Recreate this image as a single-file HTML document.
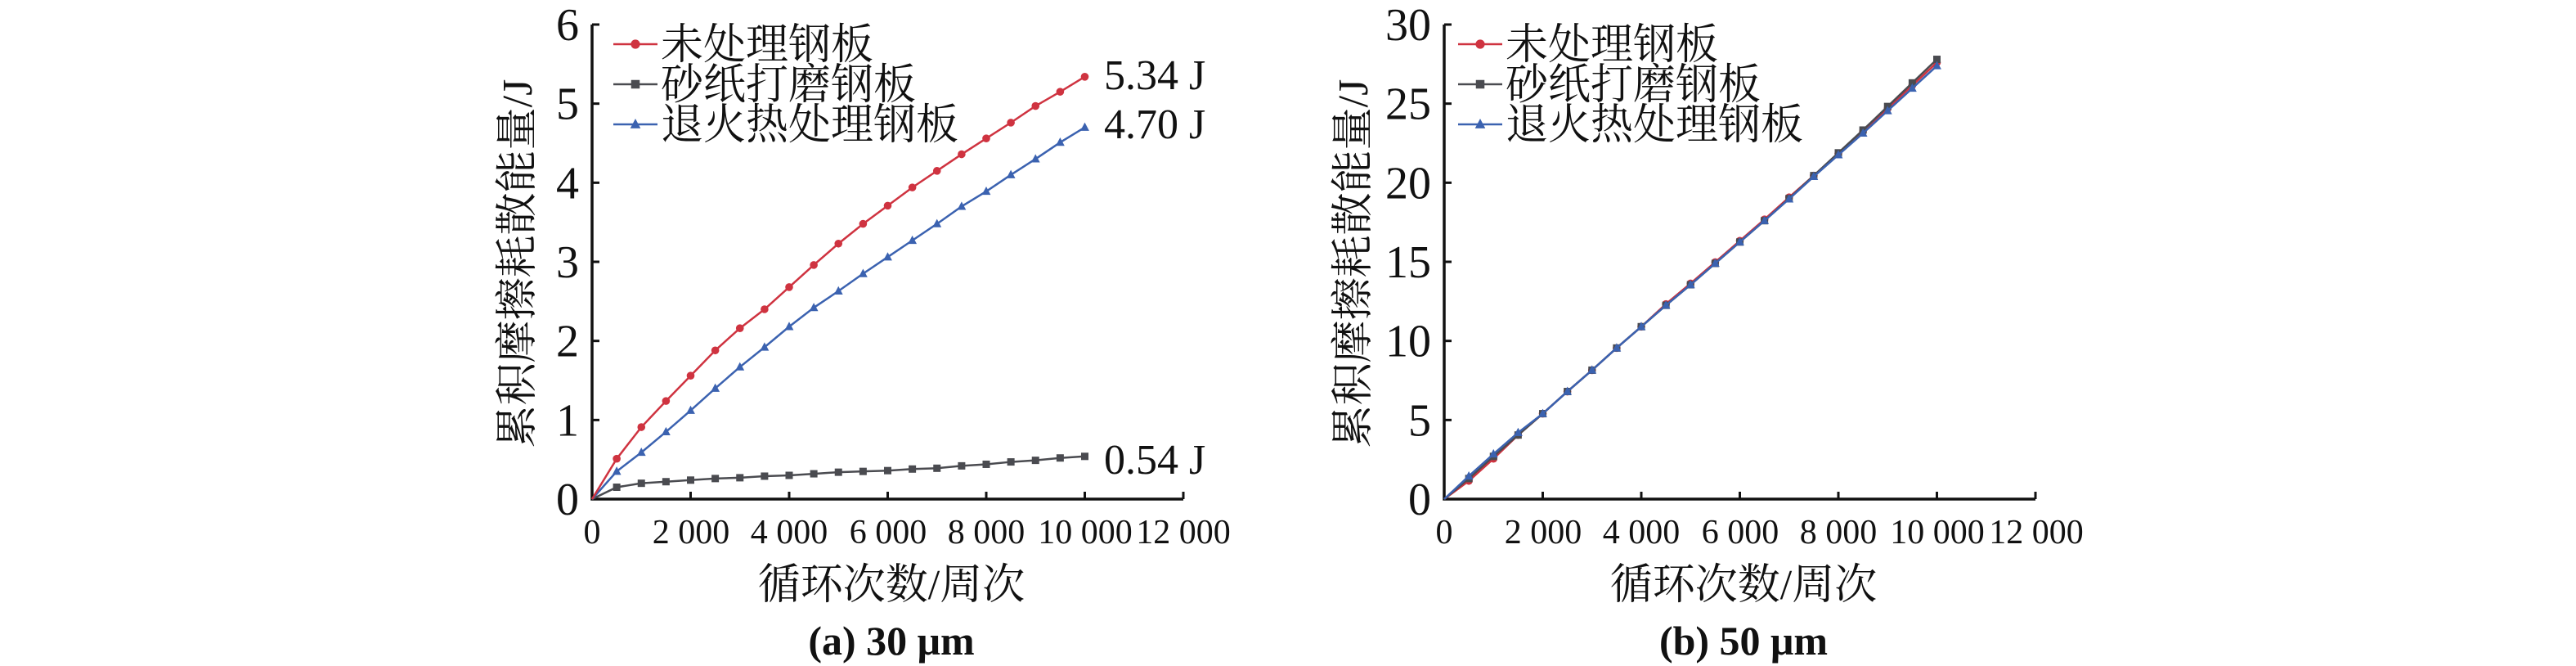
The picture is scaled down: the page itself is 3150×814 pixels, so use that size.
<!DOCTYPE html>
<html><head><meta charset="utf-8"><style>
body{margin:0;background:#fff;}
svg{display:block}
text{font-family:"Liberation Serif","Noto Serif CJK SC",serif;fill:#111}
.cj{font-family:"Liberation Serif","Noto Serif CJK SC",serif}
</style></head><body>
<svg id="s" width="3150" height="814" xmlns="http://www.w3.org/2000/svg">
<g id="A"></g>
<g font-size="42" text-anchor="middle">
<text x="724" y="664">0</text><text x="845" y="664">2 000</text><text x="965" y="664">4 000</text><text x="1086" y="664">6 000</text><text x="1206" y="664">8 000</text><text x="1327" y="664">10 000</text><text x="1447" y="664">12 000</text>
</g>
<text class="cj" font-size="52" text-anchor="middle" x="1090" y="732">循环次数/周次</text>
<text font-size="50" font-weight="bold" text-anchor="middle" x="1090" y="800">(a) 30 μm</text>
<text class="cj" font-size="52" text-anchor="middle" transform="translate(650,322) rotate(-90)">累积摩擦耗散能量/J</text>
<g font-size="52"><text x="1350" y="109">5.34 J</text><text x="1350" y="169">4.70 J</text><text x="1350" y="579">0.54 J</text></g>
<g font-size="42" text-anchor="middle">
<text x="1766" y="664">0</text><text x="1887" y="664">2 000</text><text x="2007" y="664">4 000</text><text x="2128" y="664">6 000</text><text x="2248" y="664">8 000</text><text x="2369" y="664">10 000</text><text x="2490" y="664">12 000</text>
</g>
<text class="cj" font-size="52" text-anchor="middle" x="2132" y="732">循环次数/周次</text>
<text font-size="50" font-weight="bold" text-anchor="middle" x="2132" y="800">(b) 50 μm</text>
<text class="cj" font-size="52" text-anchor="middle" transform="translate(1672,322) rotate(-90)">累积摩擦耗散能量/J</text>
<g id="B"></g>
</svg>
<script>
const NS="http://www.w3.org/2000/svg";
function el(p,t,a,txt){const e=document.createElementNS(NS,t);for(const k in a)e.setAttribute(k,a[k]);if(txt!==undefined)e.textContent=txt;p.appendChild(e);return e;}
const C={r:"#cf3340",k:"#4a4b50",b:"#3b62b0"};
function marker(g,type,x,y,c,s){
 if(type=="r")el(g,"circle",{cx:x,cy:y,r:s*0.8,fill:c});
 else if(type=="k")el(g,"rect",{x:x-s*0.75,y:y-s*0.75,width:s*1.5,height:s*1.5,fill:c});
 else el(g,"polygon",{points:`${x},${y-s} ${x-s*0.9},${y+s*0.7} ${x+s*0.9},${y+s*0.7}`,fill:c});
}
function panel(g,x0,ymax,ticks,labels,series,legX,order){
 const W=723,y0=610,top=30,H=y0-top;
 el(g,"path",{d:`M${x0},${top} V${y0} H${x0+W}`,stroke:"#111","stroke-width":3.5,fill:"none"});
 for(let i=0;i<=6;i++){const x=x0+i*W/6;el(g,"line",{x1:x,x2:x,y1:y0,y2:y0-9,stroke:"#111","stroke-width":3});}
 for(let i=0;i<=ticks;i++){const y=y0-i*H/ticks;el(g,"line",{x1:x0,x2:x0+9,y1:y,y2:y,stroke:"#111","stroke-width":3});
  el(g,"text",{x:x0-16,y:y+19,"font-size":56,"text-anchor":"end"},labels[i]);}
 for(const k of order){const d=series[k];let pts=`${x0},${y0}`;
  const xy=d.map((v,i)=>[x0+(i+1)*500*W/12000,y0-v*H/ymax]);
  pts+=" "+xy.map(p=>p.join(",")).join(" ");
  el(g,"polyline",{points:pts,stroke:C[k],"stroke-width":2.5,fill:"none"});
  xy.forEach(p=>marker(g,k,p[0],p[1],C[k],6));}
 const names={r:"未处理钢板",k:"砂纸打磨钢板",b:"退火热处理钢板"};
 ["r","k","b"].forEach((k,i)=>{const y=54+i*49;
  el(g,"line",{x1:legX,x2:legX+54,y1:y,y2:y,stroke:C[k],"stroke-width":2.5});
  marker(g,k,legX+27,y,C[k],7);
  el(g,"text",{x:legX+58,y:y+18,"font-size":52,class:"cj"},names[k]);});
}
panel(document.getElementById("A"),724,6,6,["0","1","2","3","4","5","6"],{
 r:[0.51,0.91,1.24,1.56,1.88,2.16,2.40,2.68,2.96,3.23,3.48,3.71,3.94,4.15,4.36,4.56,4.76,4.97,5.15,5.34],
 b:[0.35,0.59,0.85,1.12,1.40,1.67,1.92,2.18,2.42,2.63,2.85,3.06,3.27,3.48,3.70,3.89,4.10,4.30,4.51,4.70],
 k:[0.15,0.20,0.22,0.24,0.26,0.27,0.29,0.30,0.32,0.34,0.35,0.36,0.38,0.39,0.42,0.44,0.47,0.49,0.52,0.54]},750,["k","b","r"]);
const base=[1.3,2.7,4.05,5.4,6.8,8.15,9.55,10.9,12.25,13.55,14.9,16.25,17.6,19.0,20.45,21.85,23.25,24.7,26.15,27.6];
panel(document.getElementById("B"),1766,30,6,["0","5","10","15","20","25","30"],{
 r:base.map((v,i)=>v-(i<2?0.15:0)+(i>7&&i<14?0.08:0)),
 k:base.map((v,i)=>v+(i>14?0.04*(i-14):0)),
 b:base.map((v,i)=>v+(i<3?0.15:0)-(i>12?0.03*(i-12):0))},1783,["r","k","b"]);
</script>
</body></html>
